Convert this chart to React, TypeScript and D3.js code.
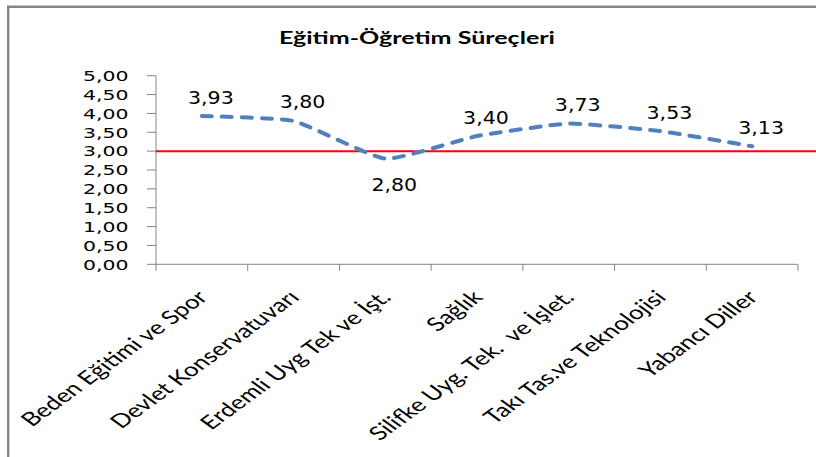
import React from "react";
import * as d3 from "d3";

const title = "Eğitim-Öğretim Süreçleri";
const categories = [
  "Beden Eğitimi ve Spor",
  "Devlet Konservatuvarı",
  "Erdemli Uyg Tek ve İşt.",
  "Sağlık",
  "Silifke Uyg. Tek.  ve İşlet.",
  "Takı Tas.ve Teknolojisi",
  "Yabancı Diller",
];
const values = [3.93, 3.8, 2.8, 3.4, 3.73, 3.53, 3.13];
const referenceValue = 3.0;
const yTickValues = [0, 0.5, 1, 1.5, 2, 2.5, 3, 3.5, 4, 4.5, 5];

const W = 816;
const H = 457;
const plotLeft = 156;
const plotRight = 798;
const plotTop = 75.7;
const plotBottom = 264.3;
const SX = 1.37;

const trFormat = d3.formatLocale({
  decimal: ",",
  thousands: ".",
  grouping: [3],
  currency: ["", ""],
}).format(".2f");

export default function App() {
  const x = d3.scaleBand<string>().domain(categories).range([plotLeft, plotRight]);
  const y = d3.scaleLinear().domain([0, 5]).range([plotBottom, plotTop]);
  const cx = (i: number) => (x(categories[i]) as number) + x.bandwidth() / 2;

  const linePath = d3
    .line<number>()
    .x((_, i) => cx(i))
    .y((d) => y(d))
    .curve(d3.curveCardinal.tension(0.55))(values) as string;

  const boundaries = categories.map((c) => x(c) as number).concat([plotRight]);
  const axisColor = "#868686";

  return (
    <svg
      width={W}
      height={H}
      style={{ position: "absolute", left: 0, top: 0, display: "block", background: "#fff" }}
    >
      {/* frame */}
      <line x1={7} x2={W} y1={6.8} y2={6.8} stroke="#878787" strokeWidth={2.4} />
      <line x1={8.2} x2={8.2} y1={5.6} y2={H} stroke="#878787" strokeWidth={2.4} />

      {/* title */}
      <text
        x={417}
        y={43.5}
        textAnchor="middle"
        fontFamily="Lato, 'Open Sans', sans-serif"
        fontWeight={700}
        fontSize={16.5}
        textLength={276}
        lengthAdjust="spacingAndGlyphs"
        fill="#000"
      >
        {title}
      </text>

      {/* y axis */}
      <line x1={plotLeft} x2={plotLeft} y1={plotTop} y2={plotBottom} stroke={axisColor} strokeWidth={1} />
      {yTickValues.map((t) => (
        <g key={t}>
          <line x1={plotLeft - 9} x2={plotLeft} y1={y(t)} y2={y(t)} stroke={axisColor} strokeWidth={1} />
          <text
            transform={`translate(128.5,${y(t) + 5.3}) scale(1.4,1)`}
            textAnchor="end"
            fontFamily="'DejaVu Sans', Verdana, sans-serif"
            fontSize={14.6}
            fill="#000"
          >
            {trFormat(t)}
          </text>
        </g>
      ))}

      {/* x axis */}
      <line x1={plotLeft} x2={plotRight} y1={plotBottom} y2={plotBottom} stroke={axisColor} strokeWidth={1} />
      {boundaries.map((b, i) => (
        <line key={i} x1={b} x2={b} y1={plotBottom} y2={plotBottom + 6.5} stroke={axisColor} strokeWidth={1} />
      ))}
      {categories.map((c, i) => (
        <text
          key={c}
          transform={`translate(${cx(i) + 7},298.5) scale(${SX},1) rotate(-45)`}
          textAnchor="end"
          fontFamily="Lato, 'Open Sans', sans-serif"
          fontSize={19}
          fill="#000"
          style={{ whiteSpace: "pre" }}
        >
          {c}
        </text>
      ))}

      {/* reference line */}
      <line
        x1={plotLeft}
        x2={W}
        y1={y(referenceValue)}
        y2={y(referenceValue)}
        stroke="#FF0000"
        strokeWidth={2}
      />

      {/* series */}
      <path
        d={linePath}
        fill="none"
        stroke="#4F81BD"
        strokeWidth={4}
        strokeDasharray="10 10"
        strokeLinecap="round"
      />

      {/* data labels */}
      {values.map((v, i) => {
        const below = v < referenceValue;
        const ly = below ? y(v) + 32 : y(v) - 12.5;
        return (
          <text
            key={i}
            transform={`translate(${cx(i) + 9},${ly}) scale(1.21,1)`}
            textAnchor="middle"
            fontFamily="'DejaVu Sans', Verdana, sans-serif"
            fontSize={17}
            fill="#000"
          >
            {trFormat(v)}
          </text>
        );
      })}
    </svg>
  );
}
